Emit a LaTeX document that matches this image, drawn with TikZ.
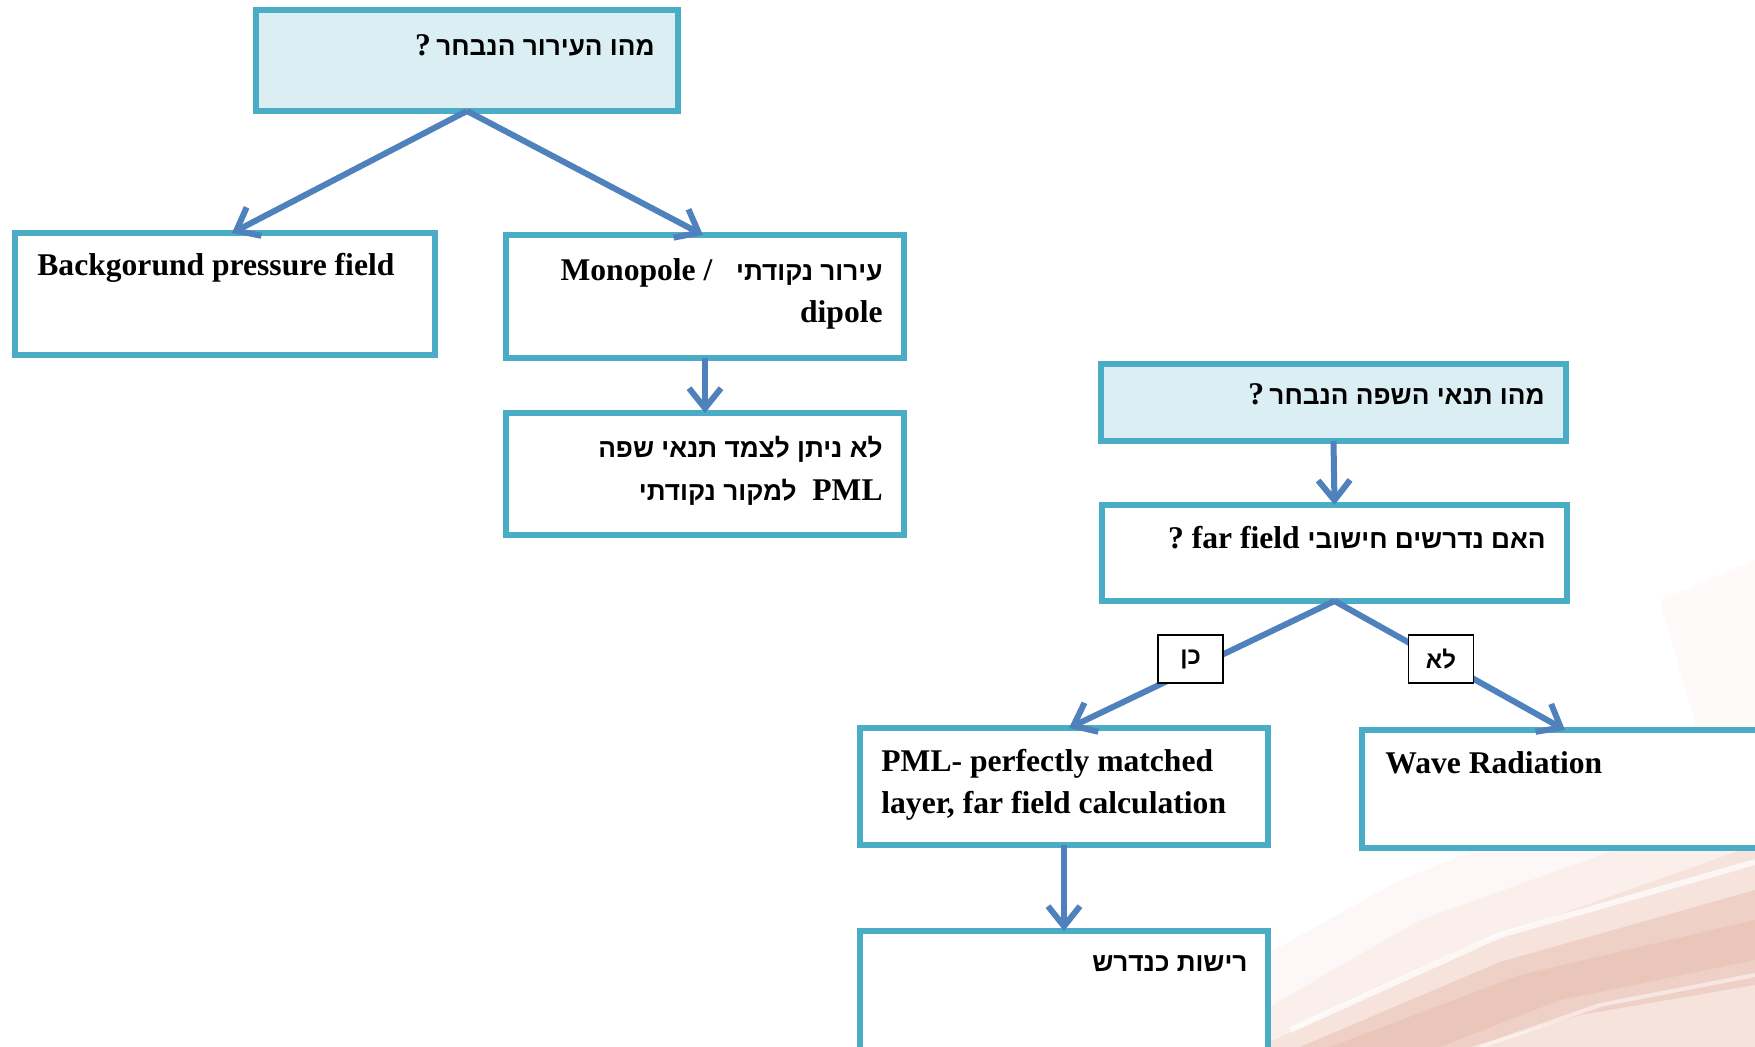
\documentclass[tikz,border=0pt]{standalone}
\usepackage{fontspec}
\setmainfont{Liberation Serif}
\newfontfamily\hebf[Script=Hebrew]{Liberation Sans}
\newcommand\heb{\hebf\fontsize{13.1pt}{18pt}\selectfont}
\newcommand\hebsmall{\hebf\fontsize{12pt}{15pt}\selectfont}
\usetikzlibrary{arrows.meta,calc}
\TeXXeTstate=1
\definecolor{arrowblue}{HTML}{4F81BD}
\definecolor{boxline}{HTML}{4BACC6}
\definecolor{boxfill}{HTML}{DAEEF3}
\definecolor{peach}{HTML}{E6AE9A}
\definecolor{peachdark}{HTML}{D4907C}
\begin{document}
\begin{tikzpicture}[x=0.5pt,y=-0.5pt,
  box/.style={draw=boxline,line width=2.8pt,fill=white,inner sep=0pt,outer sep=0pt},
  qbox/.style={box,fill=boxfill},
  conn/.style={draw=arrowblue,line width=3pt,-{Straight Barb[length=10pt,width=16pt,line width=3pt]}},
  txt/.style={inner sep=0pt,font=\bfseries\fontsize{15.8pt}{18pt}\selectfont},
  lab/.style={draw=black,line width=0.9pt,fill=white,minimum width=32.5pt,minimum height=24pt,inner sep=0pt,font=\bfseries\hebsmall}
]
\useasboundingbox (0,0) rectangle (1755,1047);
\clip (0,0) rectangle (1755,1047);
\fill[white] (0,0) rectangle (1755,1047);

% faint background photo tones (lower right)
\fill[peach,opacity=0.08] (1100,1047) -- (1400,880) -- (1755,740) -- (1755,1047) -- cycle;
\fill[peach,opacity=0.12] (1200,1047) -- (1420,920) -- (1755,800) -- (1755,1047) -- cycle;
\fill[peach,opacity=0.18] (1260,1047) -- (1460,950) -- (1755,845) -- (1755,1047) -- cycle;
\fill[peachdark,opacity=0.22] (1300,1047) -- (1500,962) -- (1755,890) -- (1755,985) -- (1580,1015) -- (1470,1047) -- cycle;
\fill[peachdark,opacity=0.15] (1330,1047) -- (1520,975) -- (1755,920) -- (1755,960) -- (1560,1000) -- (1440,1047) -- cycle;
\draw[white,opacity=0.7,line width=3pt] (1290,1030) -- (1500,935) -- (1755,862);
\draw[white,opacity=0.5,line width=2pt] (1480,1047) -- (1600,1005) -- (1755,975);
\fill[peach,opacity=0.06] (1660,600) -- (1755,560) -- (1755,740) -- (1700,740) -- cycle;

% boxes
\node[qbox,minimum width=211pt,minimum height=50.5pt] (b1) at (467,60.5) {};
\node[box,minimum width=210pt,minimum height=61pt] (b2) at (225,294) {};
\node[box,minimum width=199pt,minimum height=61.5pt] (b3) at (705,296.5) {};
\node[box,minimum width=199pt,minimum height=61pt] (b4) at (705,474) {};
\node[qbox,minimum width=232.5pt,minimum height=38.5pt] (b5) at (1333.5,402.5) {};
\node[box,minimum width=232.5pt,minimum height=48pt] (b6) at (1334.5,553) {};
\node[box,minimum width=204pt,minimum height=58.5pt] (b7) at (1064,786.5) {};
\node[box,minimum width=214pt,minimum height=59pt] (b8) at (1576,789) {};
\node[box,minimum width=204pt,minimum height=74.5pt] (b9) at (1064,1005.5) {};

% texts
\node[txt,anchor=base east] (t1) at (655,56) {?\,{\heb\beginR מהו העירור הנבחר\endR}};
\node[txt,anchor=base west] (t2) at (37,276) {Backgorund pressure field};
\node[txt,anchor=base east] (t3a) at (883,281) {Monopole /\ \ \ {\heb\beginR עירור נקודתי\endR}};
\node[txt,anchor=base east] (t3b) at (883,323) {dipole};
\node[txt,anchor=base east] (t4a) at (883,458) {{\heb\beginR לא ניתן לצמד תנאי שפה\endR}};
\node[txt,anchor=base east] (t4b) at (883,501) {{\heb\beginR למקור נקודתי\endR}\ \ PML};
\node[txt,anchor=base east] (t5) at (1545,405) {?\,{\heb\beginR מהו תנאי השפה הנבחר\endR}};
\node[txt,anchor=base east] (t6) at (1546,548) {?\ far field {\heb\beginR האם נדרשים חישובי\endR}};
\node[txt,anchor=base west] (t7a) at (881,771) {PML- perfectly matched};
\node[txt,anchor=base west] (t7b) at (881,813) {layer, far field calculation};
\node[txt,anchor=base west] (t8) at (1385,773) {Wave Radiation};
\node[txt,anchor=base east] (t9) at (1248,971) {{\heb\beginR רישות כנדרש\endR}};

% connectors
\draw[conn] (b1.south) -- ($(b2.north)+(7,0)$);
\draw[conn] (b1.south) -- ($(b3.north)+(-2,0)$);
\draw[conn] (b3.south) -- (b4.north);
\draw[conn] (b5.south) -- (b6.north);
\draw[conn] (b6.south) -- ($(b7.north)+(5,0)$);
\draw[conn] (b6.south) -- ($(b8.north)+(-11,0)$);
\draw[conn] (b7.south) -- (b9.north);

% yes / no labels
\node[lab] (yes) at (1190.5,659) {כן};
\node[lab] (no) at (1441,659) {לא};
\end{tikzpicture}
\end{document}
